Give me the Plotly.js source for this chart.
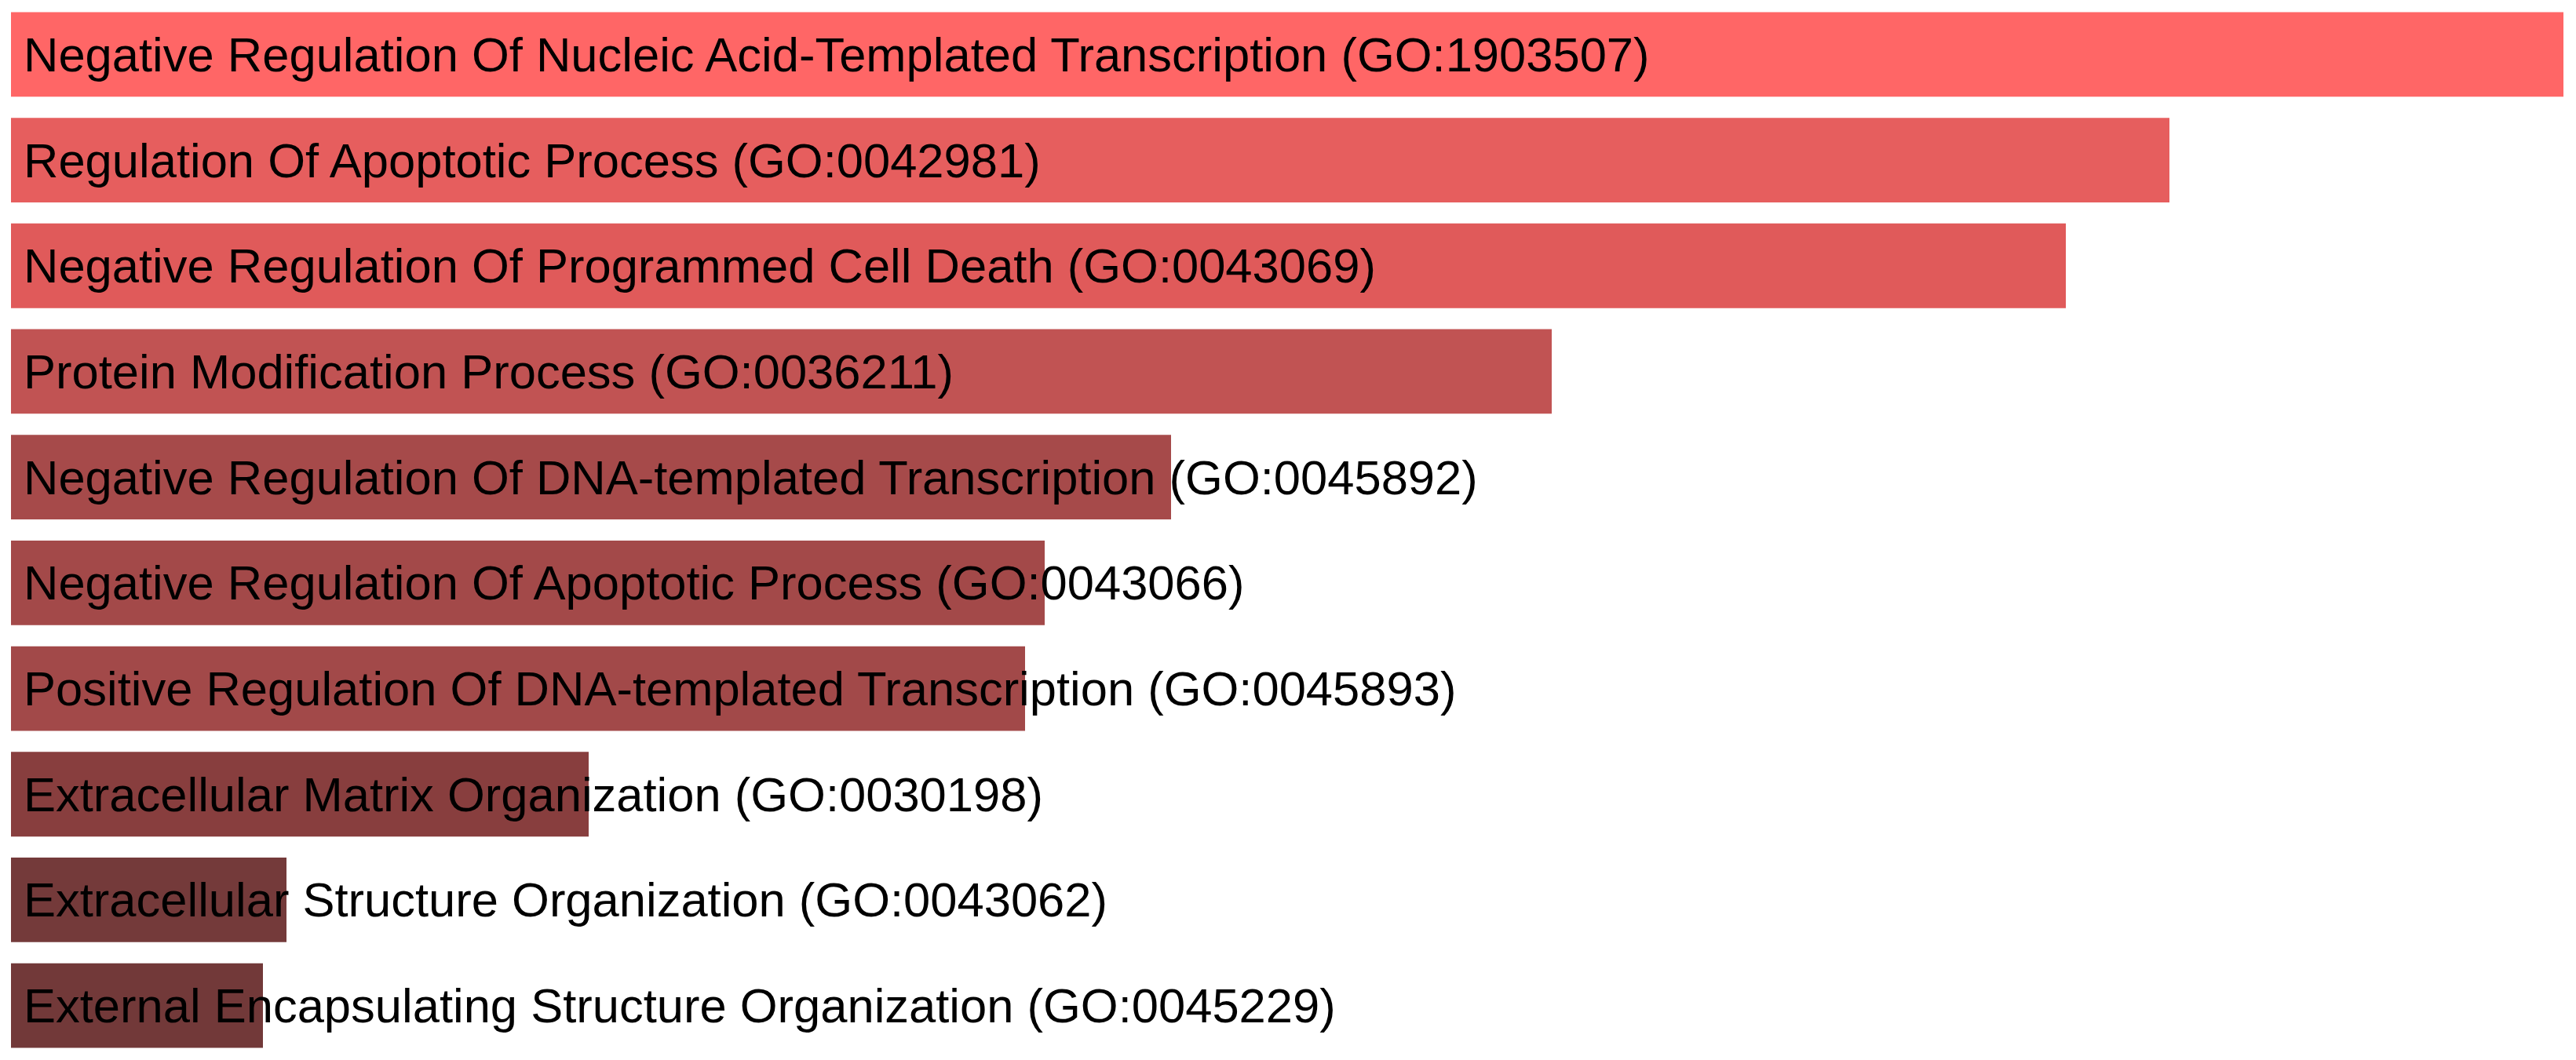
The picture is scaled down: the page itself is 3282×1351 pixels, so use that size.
<!DOCTYPE html>
<html>
<head>
<meta charset="utf-8">
<script src="https://cdn.plot.ly/plotly-3.0.1.min.js"></script>
<style>html,body{margin:0;padding:0;background:#fff;}#chart{width:3282px;height:1351px;}</style>
</head>
<body>
<div id="chart"></div>
<script>
const terms = [
  "Negative Regulation Of Nucleic Acid-Templated Transcription (GO:1903507)",
  "Regulation Of Apoptotic Process (GO:0042981)",
  "Negative Regulation Of Programmed Cell Death (GO:0043069)",
  "Protein Modification Process (GO:0036211)",
  "Negative Regulation Of DNA-templated Transcription (GO:0045892)",
  "Negative Regulation Of Apoptotic Process (GO:0043066)",
  "Positive Regulation Of DNA-templated Transcription (GO:0045893)",
  "Extracellular Matrix Organization (GO:0030198)",
  "Extracellular Structure Organization (GO:0043062)",
  "External Encapsulating Structure Organization (GO:0045229)"
];
const scores = [32.52, 27.50, 26.18, 19.63, 14.78, 13.17, 12.92, 7.36, 3.51, 3.21];
const barColors = ["#FF6666", "#E65E5E", "#E05A5A", "#C15353", "#A64A4A", "#A34949", "#A24949", "#883E3E", "#743A3A", "#723939"];

const trace = {
  type: "bar",
  orientation: "h",
  x: scores,
  y: terms,
  marker: {color: barColors, line: {width: 0}},
  hoverinfo: "none"
};

const annotations = terms.map((t) => ({
  x: 0, y: t, xref: "x", yref: "y",
  text: t, showarrow: false,
  xanchor: "left", yanchor: "middle",
  xshift: 14, yshift: 0,
  font: {family: "Liberation Sans, Arial, sans-serif", size: 61.5, color: "#000"}
}));

const layout = {
  width: 3282, height: 1351,
  margin: {l: 14, r: 16, t: 2, b: 2, pad: 0},
  paper_bgcolor: "#fff", plot_bgcolor: "#fff",
  bargap: 0.2,
  showlegend: false,
  xaxis: {visible: false, range: [0, Math.max(...scores)], fixedrange: true},
  yaxis: {visible: false, autorange: "reversed", fixedrange: true},
  annotations: annotations
};

Plotly.newPlot("chart", [trace], layout, {staticPlot: true, displayModeBar: false});
</script>
</body>
</html>
